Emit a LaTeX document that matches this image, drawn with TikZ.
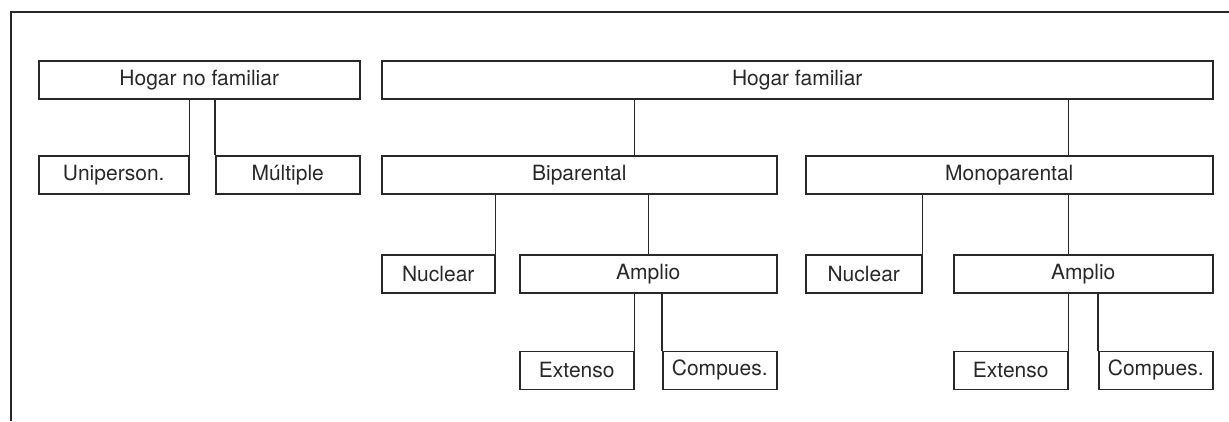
\documentclass[tikz,border=0pt]{standalone}
\usepackage{fontspec}
\setmainfont{TeX Gyre Heros}
\usepackage{tikz}
\usetikzlibrary{positioning, calc}
\definecolor{mydark}{RGB}{40,40,40}
\tikzset{
  box/.style={rectangle, draw=mydark, fill=white, anchor=north west,
    inner sep=0pt, minimum height=38pt, line width=1.5pt,
    font=\fontsize{21}{25}\selectfont, text=mydark},
  link/.style={line width=1.5pt, color=mydark},
  frame/.style={line width=1.5pt, color=mydark}
}
\begin{document}
\begin{tikzpicture}[x=1pt, y=-1pt]
  \useasboundingbox (0,0) rectangle (1229,421);
  % frame
  \draw[frame] (1229,12) -| (11,421);

  % no familiar
  \node[box, minimum width=321pt] (hnf) at (38,60) {Hogar no familiar};
  \node[box, minimum width=150pt] (uni) at (38,155) {Uniperson.};
  \node[box, minimum width=144pt] (mul) at (215,155) {Múltiple};

  % familiar
  \node[box, minimum width=831pt] (hf) at (381,60) {Hogar familiar};
  \node[box, minimum width=395pt] (bi) at (381,155) {Biparental};
  \node[box, minimum width=407pt] (mono) at (805,155) {Monoparental};

  % biparental
  \node[box, minimum width=113pt] (nucb) at (381,254) {Nuclear};
  \node[box, minimum width=257pt] (ampb) at (519,254) {Amplio};
  \node[box, minimum width=114pt] (extb) at (519,350.5) {Extenso};
  \node[box, minimum width=114pt] (comb) at (662,350.5) {Compues.};

  % monoparental
  \node[box, minimum width=116pt] (nucm) at (805,254) {Nuclear};
  \node[box, minimum width=259pt] (ampm) at (953,254) {Amplio};
  \node[box, minimum width=114pt] (extm) at (953,350.5) {Extenso};
  \node[box, minimum width=114pt] (comm) at (1098,350.5) {Compues.};

  % Connections
  \draw[link] (uni.north east) -- (uni.north east |- hnf.south);
  \draw[link] (mul.north west) -- (mul.north west |- hnf.south);
  \draw[link] (bi.north -| extb.east) -- (hf.south -| extb.east);
  \draw[link] (mono.north -| extm.east) -- (hf.south -| extm.east);
  \draw[link] (nucb.north east) -- (nucb.north east |- bi.south);
  \draw[link] (ampb.north) -- (ampb.north |- bi.south);
  \draw[link] (nucm.north east) -- (nucm.north east |- mono.south);
  \draw[link] (ampm.north -| extm.east) -- (mono.south -| extm.east);
  \draw[link] (extb.north east) -- (extb.north east |- ampb.south);
  \draw[link] (comb.north west) -- (comb.north west |- ampb.south);
  \draw[link] (extm.north east) -- (extm.north east |- ampm.south);
  \draw[link] (comm.north west) -- (comm.north west |- ampm.south);
\end{tikzpicture}
\end{document}
